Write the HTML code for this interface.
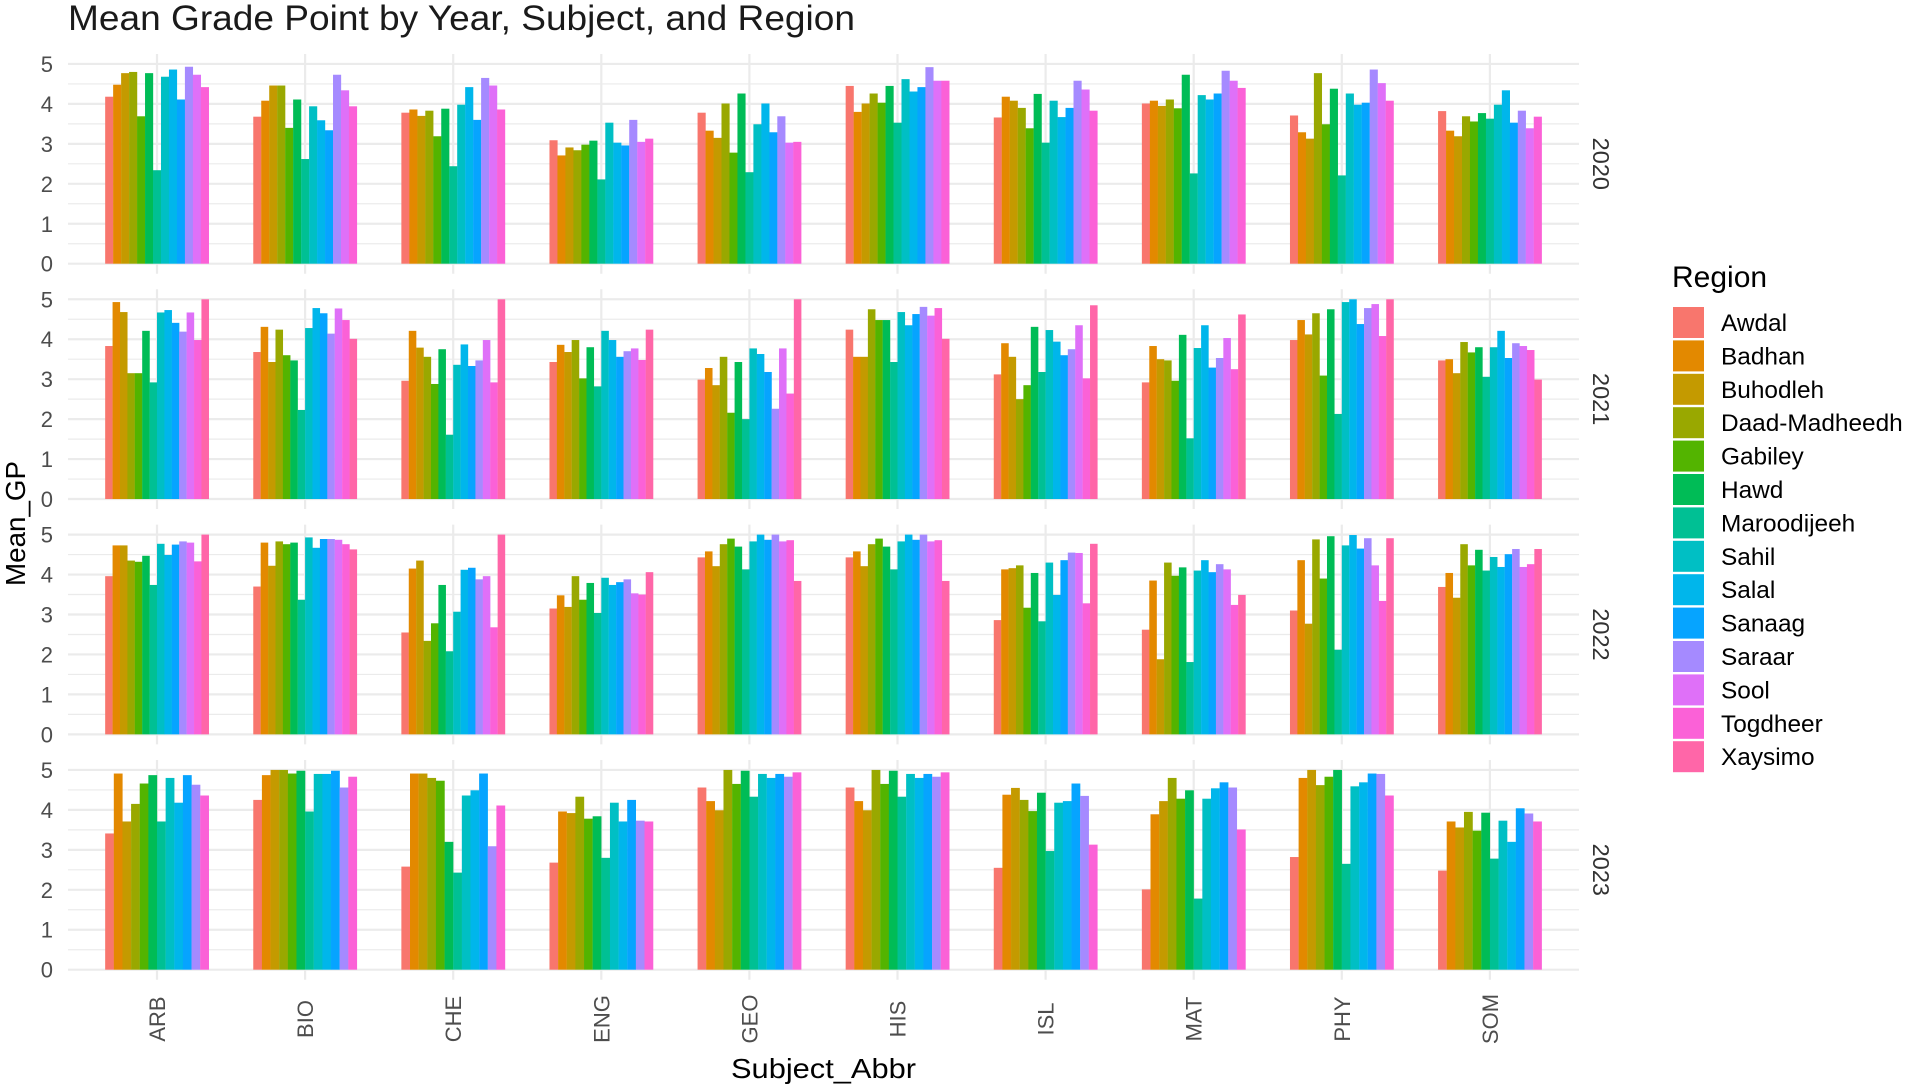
<!DOCTYPE html>
<html lang="en">
<head>
<meta charset="utf-8">
<title>Mean Grade Point by Year, Subject, and Region</title>
<style>
html,body{margin:0;padding:0;background:#fff;}
svg{display:block;font-family:"Liberation Sans",sans-serif;}
</style>
</head>
<body>
<svg id="chart" xmlns="http://www.w3.org/2000/svg" width="1907" height="1090" viewBox="0 0 1907 1090">
  <rect x="0" y="0" width="1907" height="1090" fill="#ffffff"/>
  <g id="grid"></g>
  <g id="bars"></g>
  <g id="axes"></g>
  <text x="68" y="30" font-size="35.5" textLength="787" lengthAdjust="spacingAndGlyphs" fill="#1a1a1a">Mean Grade Point by Year, Subject, and Region</text>
  <text transform="translate(25,586) rotate(-90)" font-size="28" textLength="125" lengthAdjust="spacingAndGlyphs" fill="#000000">Mean_GP</text>
  <text x="731" y="1078" font-size="28" textLength="185" lengthAdjust="spacingAndGlyphs" fill="#000000">Subject_Abbr</text>
  <g id="legend">
    <text x="1672" y="287" font-size="30" fill="#000000">Region</text>
  </g>
</svg>
<script>
const subjects = ["ARB","BIO","CHE","ENG","GEO","HIS","ISL","MAT","PHY","SOM"];
const regions = ["Awdal","Badhan","Buhodleh","Daad-Madheedh","Gabiley","Hawd","Maroodijeeh","Sahil","Salal","Sanaag","Saraar","Sool","Togdheer","Xaysimo"];
const years = ["2020","2021","2022","2023"];
const yTicks = [0,1,2,3,4,5];
const palette = ["#F8766D","#E38900","#C49A00","#99A800","#53B400","#00BC56","#00C094","#00BFC4","#00B6EB","#06A4FF","#A58AFF","#DF70F8","#FB61D7","#FF66A8"];

// One row per subject, one column per region; null = region absent that year/subject.
const values2020 = [
  [4.18,4.48,4.77,4.80,3.69,4.77,2.34,4.68,4.86,4.11,4.93,4.73,4.42,null],
  [3.68,4.08,4.46,4.46,3.40,4.11,2.62,3.94,3.59,3.34,4.73,4.34,3.94,null],
  [3.78,3.86,3.70,3.83,3.19,3.88,2.44,3.98,4.42,3.60,4.65,4.46,3.86,null],
  [3.09,2.71,2.91,2.84,2.98,3.08,2.11,3.53,3.03,2.96,3.60,3.05,3.13,null],
  [3.78,3.33,3.15,4.01,2.78,4.26,2.29,3.49,4.01,3.29,3.69,3.03,3.05,null],
  [4.45,3.80,4.01,4.26,4.03,4.45,3.53,4.62,4.31,4.42,4.92,4.58,4.58,null],
  [3.66,4.18,4.08,3.90,3.39,4.25,3.03,4.08,3.67,3.90,4.58,4.36,3.83,null],
  [4.01,4.08,3.95,4.11,3.89,4.73,2.26,4.22,4.11,4.26,4.83,4.58,4.40,null],
  [3.71,3.29,3.13,4.77,3.49,4.38,2.21,4.26,3.98,4.03,4.86,4.52,4.08,null],
  [3.82,3.33,3.19,3.69,3.56,3.77,3.63,3.98,4.34,3.53,3.83,3.39,3.68,null]
];
const values2021 = [
  [3.83,4.93,4.68,3.15,3.15,4.21,2.92,4.67,4.73,4.41,4.19,4.67,3.98,5.00],
  [3.68,4.31,3.43,4.24,3.60,3.47,2.23,4.28,4.78,4.65,4.14,4.77,4.48,4.01],
  [2.96,4.21,3.79,3.56,2.88,3.75,1.61,3.36,3.87,3.33,3.47,3.98,2.92,5.00],
  [3.43,3.86,3.68,3.98,3.02,3.80,2.82,4.21,3.98,3.56,3.70,3.77,3.48,4.24],
  [2.99,3.28,2.85,3.56,2.16,3.43,2.00,3.77,3.63,3.18,2.26,3.77,2.64,5.00],
  [4.24,3.56,3.56,4.75,4.48,4.48,3.43,4.68,4.35,4.63,4.81,4.59,4.78,4.01],
  [3.12,3.90,3.56,2.50,2.85,4.31,3.18,4.23,3.94,3.60,3.75,4.35,3.02,4.85],
  [2.92,3.83,3.50,3.47,2.96,4.11,1.52,3.78,4.35,3.29,3.53,4.03,3.25,4.62],
  [3.98,4.48,4.12,4.65,3.09,4.75,2.13,4.93,5.00,4.38,4.78,4.88,4.08,5.00],
  [3.47,3.50,3.15,3.93,3.67,3.80,3.06,3.80,4.21,3.53,3.90,3.83,3.73,2.99]
];
const values2022 = [
  [3.96,4.73,4.73,4.35,4.32,4.47,3.74,4.77,4.49,4.75,4.83,4.80,4.33,5.00],
  [3.70,4.80,4.22,4.83,4.76,4.80,3.37,4.93,4.67,4.89,4.89,4.87,4.76,4.63],
  [2.55,4.15,4.35,2.34,2.78,3.74,2.08,3.07,4.12,4.17,3.88,3.96,2.68,5.00],
  [3.15,3.48,3.19,3.96,3.37,3.79,3.04,3.92,3.74,3.81,3.88,3.53,3.50,4.06],
  [4.43,4.58,4.21,4.76,4.90,4.70,4.13,4.83,5.00,4.87,5.00,4.83,4.86,3.84],
  [4.43,4.58,4.21,4.76,4.90,4.70,4.13,4.83,5.00,4.87,5.00,4.83,4.86,3.84],
  [2.86,4.13,4.16,4.23,3.17,4.04,2.83,4.30,3.49,4.36,4.55,4.54,3.28,4.77],
  [2.62,3.85,1.88,4.30,3.97,4.18,1.81,4.10,4.36,4.06,4.26,4.13,3.24,3.49],
  [3.10,4.36,2.77,4.88,3.90,4.96,2.12,4.73,4.99,4.65,4.91,4.23,3.34,4.91],
  [3.69,4.04,3.42,4.76,4.23,4.62,4.10,4.44,4.19,4.51,4.64,4.19,4.26,4.64]
];
const values2023 = [
  [3.41,4.91,3.71,4.15,4.66,4.87,3.71,4.80,4.18,4.87,4.63,null,4.36,null],
  [4.25,4.87,5.00,5.00,4.91,4.98,3.96,4.90,4.90,4.98,4.56,null,4.83,null],
  [2.58,4.91,4.91,4.80,4.73,3.20,2.43,4.36,4.49,4.91,3.09,null,4.11,null],
  [2.68,3.96,3.92,4.33,3.78,3.84,2.80,4.18,3.71,4.25,3.73,null,3.71,null],
  [4.56,4.22,3.99,5.00,4.65,4.98,4.33,4.90,4.80,4.90,4.83,null,4.94,null],
  [4.56,4.22,3.99,5.00,4.65,4.98,4.33,4.90,4.80,4.90,4.83,null,4.94,null],
  [2.55,4.38,4.55,4.25,3.97,4.43,2.97,4.18,4.22,4.66,4.35,null,3.13,null],
  [2.01,3.89,4.22,4.80,4.28,4.49,1.78,4.28,4.54,4.69,4.56,null,3.51,null],
  [2.82,4.80,5.00,4.62,4.83,5.00,2.65,4.59,4.69,4.91,4.90,null,4.36,null],
  [2.48,3.71,3.56,3.95,3.48,3.93,2.78,3.73,3.20,4.04,3.91,null,3.71,null]
];
const yearValues = [values2020, values2021, values2022, values2023];

const NS = "http://www.w3.org/2000/svg";
const panelLeft = 68, panelRight = 1579;
const bandStep = 148.1, firstBand = 157, barSpan = 0.7;
const unitPx = 39.95, panelPad = 10;

function xScale(subjectIndex) { return firstBand + subjectIndex * bandStep; }
function yScale(panelIndex, value) { return 263.7 + panelIndex * 235.33 - value * unitPx; }

function make(tag, attrs, parent, text) {
  const el = document.createElementNS(NS, tag);
  for (const k in attrs) el.setAttribute(k, attrs[k]);
  if (text !== undefined) el.textContent = text;
  parent.appendChild(el);
  return el;
}

const gridLayer = document.getElementById("grid");
const barLayer = document.getElementById("bars");
const axisLayer = document.getElementById("axes");
const legendLayer = document.getElementById("legend");

years.forEach(function (year, p) {
  const top = yScale(p, 5) - panelPad;
  const bottom = yScale(p, 0) + panelPad;

  for (let v = 0.5; v < 5; v += 1) {
    const minor = make("line", {x1: panelLeft, x2: panelRight, y1: yScale(p, v), y2: yScale(p, v), stroke: "#EBEBEB", "stroke-width": 1.2}, gridLayer);
    
    
  }
  yTicks.forEach(function (t) {
    const major = make("line", {x1: panelLeft, x2: panelRight, y1: yScale(p, t), y2: yScale(p, t), stroke: "#EBEBEB", "stroke-width": 2.2}, gridLayer);
    
    

    const label = make("text", {x: 53, y: yScale(p, t) + 8, "text-anchor": "end", "font-size": 22, fill: "#4D4D4D"}, axisLayer, String(t));
    
    
  });

  subjects.forEach(function (subject, s) {
    const cx = xScale(s);
    const vgrid = make("line", {x1: cx, x2: cx, y1: top, y2: bottom, stroke: "#EBEBEB", "stroke-width": 2.2}, gridLayer);
    
    

    const row = yearValues[p][s];
    const present = [];
    row.forEach(function (v, r) { if (v !== null) present.push(r); });
    const barW = barSpan * bandStep / present.length;
    present.forEach(function (r, i) {
      const v = row[r];
      const x = cx + (i - present.length / 2) * barW;
      const bar = make("rect", {x: x, y: yScale(p, v), width: barW + 0.15, height: yScale(p, 0) - yScale(p, v), fill: palette[r]}, barLayer);
      
      
    });
  });

  const strip = make("text", {transform: "translate(1593," + (top + bottom) / 2 + ") rotate(90)", "text-anchor": "middle", "font-size": 23.5, fill: "#333333"}, axisLayer, year);
  
  
});

subjects.forEach(function (subject, s) {
  const label = make("text", {transform: "translate(" + (xScale(s) + 8) + ",1019) rotate(-90)", "text-anchor": "middle", "font-size": 22, fill: "#4D4D4D"}, axisLayer, subject);
  
  
});

regions.forEach(function (region, i) {
  const cy = 322.5 + i * 33.4;
  const key = make("rect", {x: 1673, y: cy - 15.5, width: 31, height: 31, fill: palette[i]}, legendLayer);
  
  

  const label = make("text", {x: 1721, y: cy + 8.5, "font-size": 24.4, fill: "#000000"}, legendLayer, region);
  
  
});
</script>
</body>
</html>
